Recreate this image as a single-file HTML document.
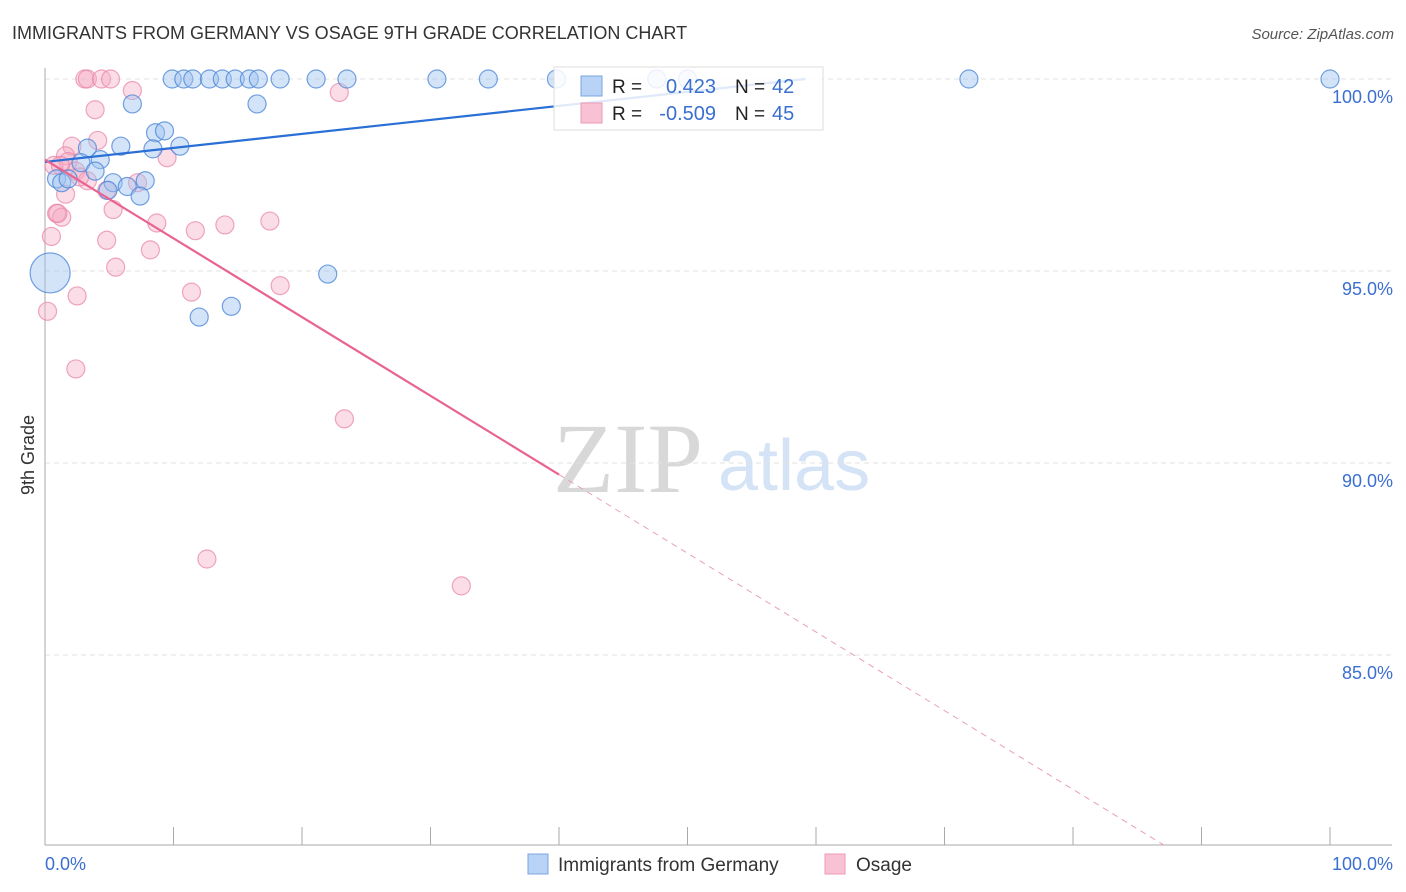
<!DOCTYPE html>
<html><head><meta charset="utf-8"><style>
body{margin:0;background:#fff;font-family:"Liberation Sans",sans-serif;}
svg{display:block}
</style></head><body>
<svg id="c" width="1406" height="892" xmlns="http://www.w3.org/2000/svg">
<text x="12" y="39" font-size="18" fill="#333">IMMIGRANTS FROM GERMANY VS OSAGE 9TH GRADE CORRELATION CHART</text>
<text x="1394" y="39" font-size="15" fill="#555" font-style="italic" text-anchor="end">Source: ZipAtlas.com</text>
<text x="553" y="492" font-size="100" fill="#d8d8d8" font-family="Liberation Serif,serif">ZIP</text>
<text x="718" y="490" font-size="72" fill="#d4e3f5">atlas</text>
<text transform="translate(34,455) rotate(-90)" font-size="18" fill="#333" text-anchor="middle">9th Grade</text>
<g id="grid"></g><g id="pts"></g><g id="lines"></g>
<g>
<rect x="554" y="67" width="269" height="63" fill="rgba(255,255,255,0.85)" stroke="#ddd"/>
<rect x="581" y="76" width="21" height="20" fill="#b8d3f5" stroke="#7aa6e0"/>
<rect x="581" y="103" width="21" height="20" fill="#f9c2d4" stroke="#ec9ab7"/>
<text x="612" y="93" font-size="19" fill="#222">R =</text><text x="716" y="93" font-size="20" fill="#3a6fd0" text-anchor="end">0.423</text>
<text x="735" y="93" font-size="19" fill="#222">N =</text><text x="772" y="93" font-size="20" fill="#3a6fd0">42</text>
<text x="612" y="120" font-size="19" fill="#222">R =</text><text x="716" y="120" font-size="20" fill="#3a6fd0" text-anchor="end">-0.509</text>
<text x="735" y="120" font-size="19" fill="#222">N =</text><text x="772" y="120" font-size="20" fill="#3a6fd0">45</text>
</g>
<g>
<rect x="528" y="854" width="20" height="20" fill="#b8d3f5" stroke="#7aa6e0"/>
<text x="558" y="871" font-size="19" fill="#333">Immigrants from Germany</text>
<rect x="825" y="854" width="20" height="20" fill="#f9c2d4" stroke="#ec9ab7"/>
<text x="856" y="871" font-size="19" fill="#333">Osage</text>
</g>
<text x="45" y="870" font-size="18" fill="#3a6fd0">0.0%</text>
<text x="1393" y="870" font-size="18" fill="#3a6fd0" text-anchor="end">100.0%</text>
</svg>
<script>
const yTicks=[100,95,90,85];
const yTickLabels=["100.0%","95.0%","90.0%","85.0%"];
const xTicks=[0,10,20,30,40,50,60,70,80,90,100];
const blueX=[9.9,10.8,11.5,12.8,13.8,14.8,15.9,16.6,18.3,21.1,23.5,30.5,34.5,39.8,47.6,50,71.9,100,6.8,16.5,8.6,9.3,5.9,8.4,10.5,3.3,4.3,2.8,3.9,0.9,1.3,1.8,5.3,4.9,6.4,7.8,7.4,0.4,22,12,14.5];
const blueY=[100,100,100,100,100,100,100,100,100,100,100,100,100,100,100,100,100,100,99.35,99.35,98.6,98.65,98.25,98.18,98.25,98.2,97.9,97.82,97.6,97.4,97.3,97.4,97.3,97.1,97.2,97.35,96.95,94.95,94.92,93.8,94.08];
const pinkX=[3.1,3.3,4.4,5.1,6.8,22.9,3.9,4.1,2.1,1.6,0.7,1.8,2.4,3.3,1.6,4.8,7.2,5.3,0.9,1.3,1,0.5,4.8,8.7,11.7,14,17.5,8.2,5.5,11.4,18.3,2.5,0.2,2.4,23.3,12.6,32.4,9.5,2.7,1.2];
const pinkY=[100,100,100,100,99.7,99.65,99.2,98.4,98.25,98,97.75,97.85,97.6,97.35,97,97.1,97.3,96.6,96.5,96.4,96.5,95.9,95.8,96.25,96.05,96.2,96.3,95.55,95.1,94.45,94.62,94.35,93.95,92.45,91.15,87.5,86.8,97.95,97.45,97.75];
const blueFit=[97.84,0.0365];
const pinkFit=[97.9,-0.205];
const X=v=>45+v*12.85, Y=v=>79+(100-v)*38.4;
const NS="http://www.w3.org/2000/svg";
function mk(t,a,p){const e=document.createElementNS(NS,t);for(const k in a)e.setAttribute(k,a[k]);p.appendChild(e);return e;}
const svg=document.getElementById('c'),grid=document.getElementById('grid'),pts=document.getElementById('pts'),lines=document.getElementById('lines');
yTicks.forEach((t,i)=>{
 const l=mk('line',{x1:45,x2:1392,y1:Y(t),y2:Y(t),stroke:'#e2e2e2','stroke-dasharray':'5,4'},grid);
 
 
 const tx=mk('text',{x:1393,y:Y(t)+24,'font-size':18,fill:'#3a6fd0','text-anchor':'end'},grid);
 tx.textContent=yTickLabels[i];
 
 
});
const ax=mk('line',{x1:45,x2:45,y1:68,y2:845,stroke:'#aaa'},grid);


const bx=mk('line',{x1:45,x2:1392,y1:845,y2:845,stroke:'#aaa'},grid);


xTicks.forEach(t=>{
 const l=mk('line',{x1:X(t),x2:X(t),y1:827,y2:845,stroke:'#aaa'},grid);
 
 
});
function dots(xs,ys,fill,stroke,name){
 xs.forEach((x,i)=>{
  const big=(name==='blue-point'&&i===37);
  const c=mk('circle',{cx:X(x),cy:Y(ys[i]),r:big?20:9,fill:fill,stroke:stroke,'stroke-width':1.2},pts);
  
  
 });
}
dots(pinkX,pinkY,'rgba(246,170,196,0.4)','rgba(232,130,165,0.7)','pink-point');
dots(blueX,blueY,'rgba(160,196,240,0.45)','rgba(70,130,215,0.75)','blue-point');
const bEnd=(100-blueFit[0])/blueFit[1];
const bl=mk('line',{x1:X(0),y1:Y(blueFit[0]),x2:X(bEnd),y2:Y(100),stroke:'#2a6fd6','stroke-width':2.2},lines);


const pl=mk('line',{x1:X(0),y1:Y(pinkFit[0]),x2:X(40),y2:Y(pinkFit[0]+pinkFit[1]*40),stroke:'#e8648f','stroke-width':2.2},lines);


const pEnd=(80-pinkFit[0])/pinkFit[1];
const pd=mk('line',{x1:X(40),y1:Y(pinkFit[0]+pinkFit[1]*40),x2:X(pEnd),y2:Y(80),stroke:'#e8a0b8','stroke-width':1,'stroke-dasharray':'6,5'},lines);


</script>
</body></html>
